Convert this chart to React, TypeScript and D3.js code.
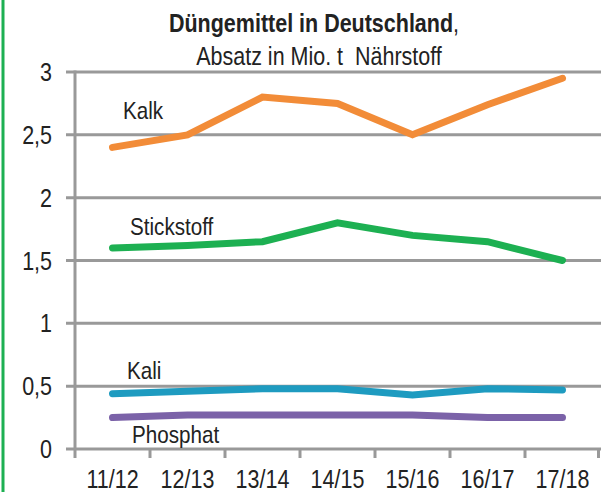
import { useEffect, useRef } from 'react';
import * as d3 from 'd3';

const years = ['11/12', '12/13', '13/14', '14/15', '15/16', '16/17', '17/18'];
const kalk = [2.4, 2.5, 2.8, 2.75, 2.5, 2.74, 2.95];
const stickstoff = [1.6, 1.62, 1.65, 1.8, 1.7, 1.65, 1.5];
const kali = [0.44, 0.46, 0.48, 0.48, 0.43, 0.48, 0.47];
const phosphat = [0.25, 0.27, 0.27, 0.27, 0.27, 0.25, 0.25];
const yTicks = [0, 0.5, 1, 1.5, 2, 2.5, 3];

const series = [
  { name: 'Kalk', values: kalk, color: '#F28C38', lx: 123, ly: 119 },
  { name: 'Stickstoff', values: stickstoff, color: '#1DB052', lx: 130, ly: 235 },
  { name: 'Kali', values: kali, color: '#1E9BC0', lx: 127, ly: 379 },
  { name: 'Phosphat', values: phosphat, color: '#7B62A8', lx: 132, ly: 443 },
];

const FONT = '"Liberation Sans", Arial, sans-serif';
const SX = 0.86; // condensed look

export default function App() {
  const svgRef = useRef<SVGSVGElement>(null);

  useEffect(() => {
    if (!svgRef.current) return;
    const svg = d3.select(svgRef.current);
    svg.selectAll('*').remove();

    const width = 601;
    const height = 492;
    const margin = { left: 75, right: 1, top: 72, bottom: 43 };

    const x = d3
      .scaleBand()
      .domain(years)
      .range([margin.left, width - margin.right]);
    const y = d3
      .scaleLinear()
      .domain([0, 3])
      .range([height - margin.bottom, margin.top]);

    // condensed text helper
    const label = (tx: number, ty: number, size: number, anchor = 'start') =>
      svg
        .append('text')
        .attr('transform', `translate(${tx},${ty}) scale(${SX},1)`)
        .attr('text-anchor', anchor)
        .attr('font-family', FONT)
        .attr('font-size', size)
        .attr('fill', '#222');

    // left green border
    svg
      .append('line')
      .attr('x1', 3)
      .attr('x2', 3)
      .attr('y1', 0)
      .attr('y2', height)
      .attr('stroke', '#1DB052')
      .attr('stroke-width', 3);

    // gridlines
    svg
      .append('g')
      .selectAll('line')
      .data(yTicks)
      .enter()
      .append('line')
      .attr('x1', margin.left - 9)
      .attr('x2', width)
      .attr('y1', d => y(d))
      .attr('y2', d => y(d))
      .attr('stroke', '#999')
      .attr('stroke-width', 3);

    // y axis line
    svg
      .append('line')
      .attr('x1', margin.left)
      .attr('x2', margin.left)
      .attr('y1', y(3) - 1.5)
      .attr('y2', y(0) + 9)
      .attr('stroke', '#999')
      .attr('stroke-width', 3);

    // x ticks at band boundaries
    const bounds = years.map(d => x(d)! + x.bandwidth());
    svg
      .append('g')
      .selectAll('line')
      .data(bounds)
      .enter()
      .append('line')
      .attr('x1', d => Math.min(d, width - 2.5))
      .attr('x2', d => Math.min(d, width - 2.5))
      .attr('y1', y(0))
      .attr('y2', y(0) + 9)
      .attr('stroke', '#999')
      .attr('stroke-width', 3);

    // y labels
    yTicks.forEach(d => {
      label(52, y(d) + 9, 25, 'end').text(String(d).replace('.', ','));
    });

    // x labels
    years.forEach(d => {
      label(x(d)! + x.bandwidth() / 2, 488, 25, 'middle').text(d);
    });

    const line = d3
      .line<number>()
      .x((d, i) => x(years[i])! + x.bandwidth() / 2)
      .y(d => y(d));

    series.forEach(s => {
      svg
        .append('path')
        .attr('d', line(s.values))
        .attr('fill', 'none')
        .attr('stroke', s.color)
        .attr('stroke-width', 7)
        .attr('stroke-linecap', 'round')
        .attr('stroke-linejoin', 'miter');
      label(s.lx, s.ly, 24).text(s.name);
    });

    // title
    const t1 = label(314, 32, 25, 'middle');
    t1.append('tspan').attr('font-weight', 'bold').text('Düngemittel in Deutschland');
    t1.append('tspan').text(',');
    label(319, 65, 25, 'middle').text('Absatz in Mio. t\u00a0 Nährstoff');
  }, []);

  return (
    <svg
      ref={svgRef}
      width={601}
      height={492}
      style={{ position: 'absolute', left: 0, top: 0, background: '#fff' }}
    />
  );
}
